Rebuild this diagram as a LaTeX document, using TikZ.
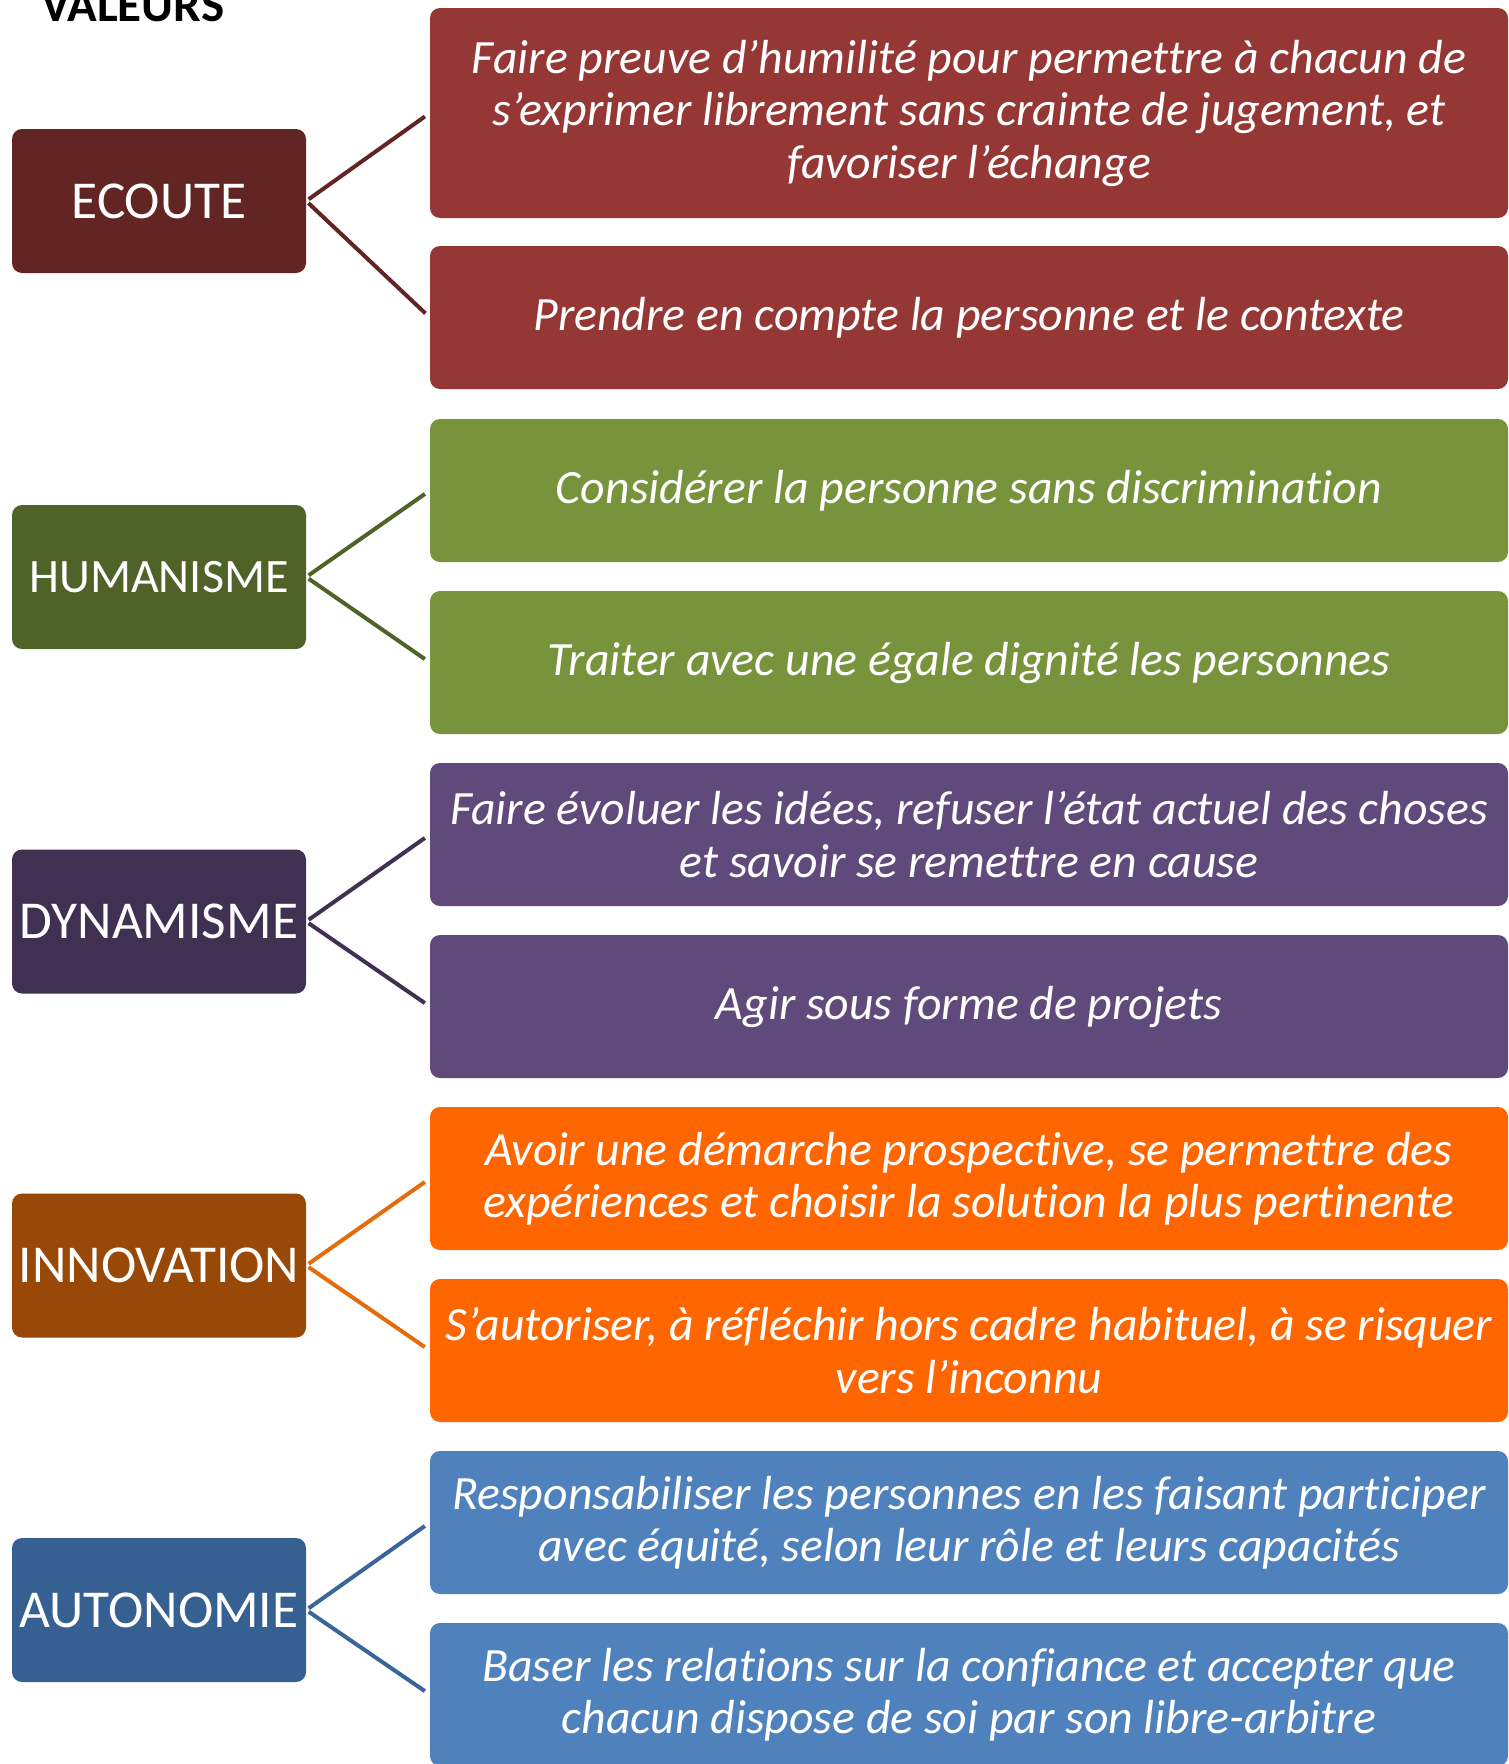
\documentclass[tikz,border=0pt]{standalone}
\usepackage{fontspec}
\setmainfont{Carlito}[Ligatures=NoCommon]
\definecolor{ecD}{HTML}{632523}
\definecolor{ecL}{HTML}{953735}
\definecolor{huD}{HTML}{4F6228}
\definecolor{huL}{HTML}{77933C}
\definecolor{dyD}{HTML}{403152}
\definecolor{dyL}{HTML}{604A7B}
\definecolor{inD}{HTML}{984807}
\definecolor{inL}{HTML}{FF6600}
\definecolor{inC}{HTML}{E46C0A}
\definecolor{auD}{HTML}{376092}
\definecolor{auL}{HTML}{4F81BD}
\definecolor{auC}{HTML}{3A6598}
\tikzset{
  valbox/.style={rounded corners=10pt, minimum width=294pt, minimum height=144pt,
    inner sep=0pt, text=white, font=\fontsize{53.3}{60}\selectfont},
  descbox/.style={rounded corners=10pt, minimum width=1078pt, minimum height=143pt,
    inner sep=0pt, text=white, align=center,
    font=\fontsize{47.8}{52.5}\selectfont\itshape},
  link/.style={line width=4pt, shorten <=3pt, shorten >=6pt}
}
\begin{document}
\begin{tikzpicture}[x=1pt,y=-1pt]
\clip (0,0) rectangle (1509,1764);
\fill[white] (0,0) rectangle (1509,1764);
\node[anchor=base west, inner sep=0pt, font=\fontsize{49}{56}\selectfont\bfseries] (title) at (41,21) {VALEURS};

% ECOUTE
\node[valbox, fill=ecD] (L1) at (159,201) {ECOUTE};
\node[descbox, fill=ecL, minimum height=210pt] (R1) at (969,113) {Faire preuve d’humilité pour permettre à chacun de\\s’exprimer librement sans crainte de jugement, et\\favoriser l’échange};
\node[descbox, fill=ecL] (R2) at (969,317.5) {Prendre en compte la personne et le contexte};
\draw[link, ecD] (L1.east) -- (R1.west);
\draw[link, ecD] (L1.east) -- (R2.west);

% HUMANISME
\node[valbox, fill=huD, font=\fontsize{48}{56}\selectfont] (L2) at (159,577) {HUMANISME};
\node[descbox, fill=huL] (R3) at (969,490.5) {Considérer la personne sans discrimination};
\node[descbox, fill=huL] (R4) at (969,662.5) {Traiter avec une égale dignité les personnes};
\draw[link, huD] (L2.east) -- (R3.west);
\draw[link, huD] (L2.east) -- (R4.west);

% DYNAMISME
\node[valbox, fill=dyD] (L3) at (159,921.5) {DYNAMISME};
\node[descbox, fill=dyL] (R5) at (969,834.5) {Faire évoluer les idées, refuser l’état actuel des choses\\et savoir se remettre en cause};
\node[descbox, fill=dyL] (R6) at (969,1006.5) {Agir sous forme de projets};
\draw[link, dyD] (L3.east) -- (R5.west);
\draw[link, dyD] (L3.east) -- (R6.west);

% INNOVATION
\node[valbox, fill=inD] (L4) at (159,1265.5) {INNOVATION};
\node[descbox, fill=inL] (R7) at (969,1178.5) {Avoir une démarche prospective, se permettre des\\expériences et choisir la solution la plus pertinente};
\node[descbox, fill=inL] (R8) at (969,1350.5) {S’autoriser, à réfléchir hors cadre habituel, à se risquer\\vers l’inconnu};
\draw[link, inC] (L4.east) -- (R7.west);
\draw[link, inC] (L4.east) -- (R8.west);

% AUTONOMIE
\node[valbox, fill=auD] (L5) at (159,1610) {AUTONOMIE};
\node[descbox, fill=auL] (R9) at (969,1522.5) {Responsabiliser les personnes en les faisant participer\\avec équité, selon leur rôle et leurs capacités};
\node[descbox, fill=auL] (R10) at (969,1694.5) {Baser les relations sur la confiance et accepter que\\chacun dispose de soi par son libre-arbitre};
\draw[link, auC] (L5.east) -- (R9.west);
\draw[link, auC] (L5.east) -- (R10.west);
\end{tikzpicture}
\end{document}
